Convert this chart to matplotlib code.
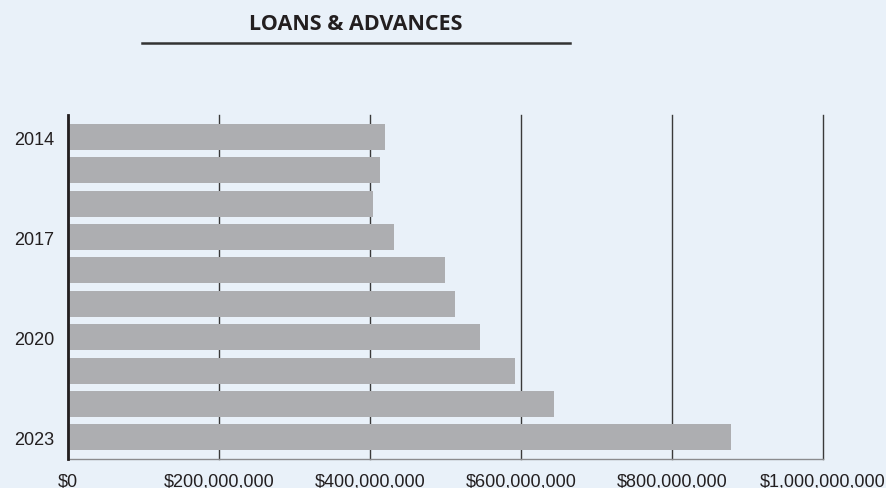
import matplotlib.pyplot as plt
from matplotlib.lines import Line2D

# Données
years = [2014, 2015, 2016, 2017, 2018, 2019, 2020, 2021, 2022, 2023]
loans = [420e6, 413e6, 404e6, 432e6, 499e6, 513e6, 546e6, 592e6, 644e6, 878e6]
xticks = [0, 200e6, 400e6, 600e6, 800e6, 1000e6]
xlabels = ['$0', '$200,000,000', '$400,000,000', '$600,000,000',
           '$800,000,000', '$1,000,000,000']
shown_years = [2014, 2017, 2020, 2023]

bg = '#E9F1F9'
bar_color = '#ADAEB1'

fig = plt.figure(figsize=(8.86, 4.89), dpi=100, facecolor=bg)
ax = fig.add_axes([0.0767, 0.0593, 0.8521, 0.7035], facecolor=bg)

pos = list(range(len(years)))
ax.barh(pos, loans, height=0.78, color=bar_color, zorder=2)

ax.set_xlim(0, 1e9)
ax.set_ylim(len(years) - 0.35, -0.66)

ax.set_xticks(xticks)
ax.set_xticklabels(xlabels, fontsize=13, color='#231F20', family='Liberation Sans')
ax.set_yticks([years.index(y) for y in shown_years])
ax.set_yticklabels([str(y) for y in shown_years], fontsize=13, color='#231F20',
                   family='Liberation Sans')
ax.tick_params(axis='x', length=0, pad=9.5)
ax.tick_params(axis='y', length=0, pad=10)

ax.grid(axis='x', color='#3a3a3a', linewidth=1, zorder=1)
ax.set_axisbelow(True)
for gl in ax.get_xgridlines():
    gl.set_clip_on(False)

for s in ['top', 'right']:
    ax.spines[s].set_visible(False)
ax.spines['left'].set_color('#231F20')
ax.spines['left'].set_linewidth(2)
ax.spines['left'].set_zorder(3)
ax.spines['bottom'].set_color('#8a8b8e')
ax.spines['bottom'].set_linewidth(1)

# Titre et soulignement
fig.text(0.402, 0.95, 'LOANS & ADVANCES', ha='center', va='center',
         fontsize=15.5, fontweight='bold', family='Open Sans', color='#231F20')
fig.add_artist(Line2D([142 / 886, 570 / 886], [1 - 44 / 489, 1 - 44 / 489],
                      color='#333333', linewidth=1.8, transform=fig.transFigure))

fig.savefig('out.png', dpi=100, facecolor=bg)
